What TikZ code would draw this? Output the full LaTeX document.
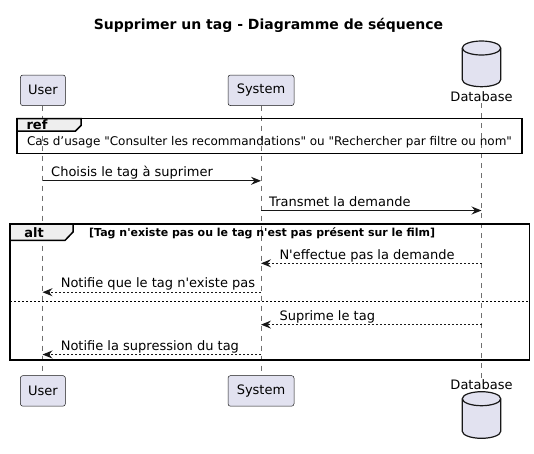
\documentclass[tikz,border=0pt]{standalone}
\usepackage{fontspec}
\setmainfont{DejaVu Sans}[Ligatures=TeXOff]
\usetikzlibrary{arrows.meta}
\definecolor{partfill}{HTML}{E2E2F0}
\definecolor{ink}{HTML}{181818}
\definecolor{lifegray}{HTML}{707070}
\definecolor{tabfill}{HTML}{EEEEEE}
\tikzset{
  participant/.style={draw=ink, fill=partfill, line width=0.5pt, rounded corners=2.5pt,
    inner sep=0pt, font=\fontsize{13}{15}\selectfont, text=black},
  lifeline/.style={draw=lifegray, line width=0.5pt, dash pattern=on 5pt off 5pt},
  frameline/.style={draw=black, line width=1.5pt},
  tabshape/.style={draw=black, line width=1.5pt, fill=tabfill},
  msg/.style={draw=ink, line width=1pt, -{Stealth[length=10pt,width=8pt,inset=3.5pt]}},
  reply/.style={msg, dash pattern=on 2pt off 2pt},
  msglabel/.style={inner sep=0pt, font=\fontsize{13}{15}\selectfont},
  dblabel/.style={inner sep=0pt, font=\fontsize{13}{15}\selectfont},
}
\begin{document}
\begin{tikzpicture}[x=1pt,y=-1pt]
\useasboundingbox (0,0) rectangle (534,453);
\fill[white] (0,0) rectangle (534,453);

% title
\node[inner sep=0pt, font=\bfseries\fontsize{14}{16}\selectfont] (title) at (268.5,25) {Supprimer un tag - Diagramme de séquence};

% lifeline anchors
\coordinate (uT) at (42.5,105.6);
\coordinate (uB) at (42.5,375.5);
\coordinate (sT) at (261,105.6);
\coordinate (sB) at (261,375.5);
\coordinate (dT) at (481.5,103);
\coordinate (dB) at (481.5,378);
\draw[lifeline] (uT) -- (uB);
\draw[lifeline] (sT) -- (sB);
\draw[lifeline] (dT) -- (dB);

% participants top
\node[participant, minimum width=45pt, minimum height=30.6pt] (user1) at (42.9,90.3) {User};
\node[participant, minimum width=66pt, minimum height=30.6pt] (sys1) at (261,90.3) {System};
% participants bottom
\node[participant, minimum width=45pt, minimum height=30.6pt] (user2) at (42.9,390.9) {User};
\node[participant, minimum width=66pt, minimum height=30.6pt] (sys2) at (261,390.9) {System};

% database top
\filldraw[fill=partfill, draw=ink, line width=1.2pt]
  (462.3,48) -- (462.3,79.7) arc (180:360:19.2pt and 7pt) -- (500.7,48) arc (0:180:19.2pt and 7pt) -- cycle;
\draw[ink, line width=1.2pt] (462.3,48) arc (180:360:19.2pt and 7pt);
\node[dblabel] (db1) at (481.5,96.7) {Database};
% database bottom
\filldraw[fill=partfill, draw=ink, line width=1.2pt]
  (462.3,398.7) -- (462.3,431.3) arc (180:360:19.2pt and 7pt) -- (500.7,398.7) arc (0:180:19.2pt and 7pt) -- cycle;
\draw[ink, line width=1.2pt] (462.3,398.7) arc (180:360:19.2pt and 7pt);
\node[dblabel] (db2) at (481.5,385) {Database};

% ref frame
\draw[frameline] (17,118.5) rectangle (522,153.6);
\draw[tabshape] (17,118.5) -- (81,118.5) -- (81,125.5) -- (75.5,131) -- (17,131) -- cycle;
\node[inner sep=0pt, font=\bfseries\fontsize{13}{15}\selectfont] (reftag) at (37,124.8) {ref};
\node[inner sep=0pt, font=\fontsize{12}{14}\selectfont] (reftext) at (269.5,142.5) {Cas d’usage "Consulter les recommandations" ou "Rechercher par filtre ou nom"};

% message 1
\coordinate (m1a) at (42.5,180.8);
\coordinate (m1b) at (261,180.8);
\draw[msg] (m1a) -- (m1b);
\node[msglabel, anchor=base west] (l1) at (51,176.5) {Choisis le tag à suprimer};
% message 2
\coordinate (m2a) at (261,210.5);
\coordinate (m2b) at (481.5,210.5);
\draw[msg] (m2a) -- (m2b);
\node[msglabel, anchor=base west] (l2) at (269,206.2) {Transmet la demande};

% alt frame
\draw[frameline] (10,224) rectangle (529.5,360);
\draw[tabshape] (10,224) -- (73,224) -- (73,232) -- (65,240.4) -- (10,240.4) -- cycle;
\node[inner sep=0pt, font=\bfseries\fontsize{13}{15}\selectfont] (alttag) at (34,232.3) {alt};
\node[inner sep=0pt, anchor=base west, font=\bfseries\fontsize{11}{13}\selectfont] (cond) at (89,236.3) {[Tag n'existe pas ou le tag n'est pas présent sur le film]};
\coordinate (sepL) at (10,301.7);
\coordinate (sepR) at (529.5,301.7);
\draw[black, line width=1pt, dash pattern=on 2pt off 2pt] (sepL) -- (sepR);

% message 3
\coordinate (m3a) at (481.5,263.3);
\coordinate (m3b) at (261,263.3);
\draw[reply] (m3a) -- (m3b);
\node[msglabel, anchor=base west] (l3) at (279.3,259) {N'effectue pas la demande};
% message 4
\coordinate (m4a) at (261,292.2);
\coordinate (m4b) at (42.5,292.2);
\draw[reply] (m4a) -- (m4b);
\node[msglabel, anchor=base west] (l4) at (60.6,287.9) {Notifie que le tag n'existe pas};
% message 5
\coordinate (m5a) at (481.5,324.6);
\coordinate (m5b) at (261,324.6);
\draw[reply] (m5a) -- (m5b);
\node[msglabel, anchor=base west] (l5) at (279.3,320.3) {Suprime le tag};
% message 6
\coordinate (m6a) at (261,354.5);
\coordinate (m6b) at (42.5,354.5);
\draw[reply] (m6a) -- (m6b);
\node[msglabel, anchor=base west] (l6) at (60.6,350.2) {Notifie la supression du tag};
\end{tikzpicture}
\end{document}
